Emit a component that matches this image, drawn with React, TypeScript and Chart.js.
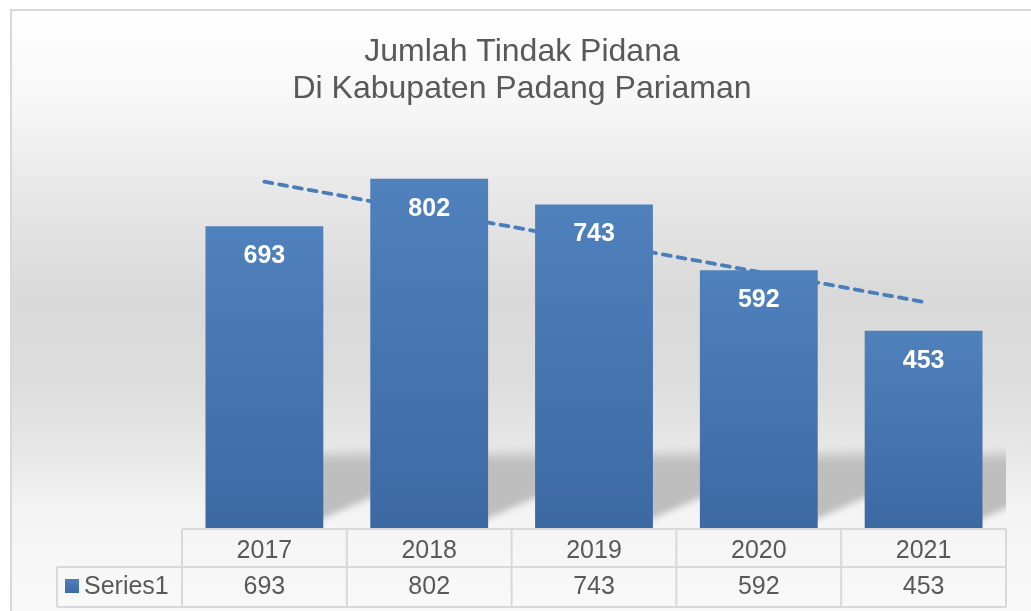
import React, { useEffect, useRef } from 'react';
import { Chart, registerables } from 'chart.js';

Chart.register(...registerables);

const titleLines = ['Jumlah Tindak Pidana', 'Di Kabupaten Padang Pariaman'];
const categories = ['2017', '2018', '2019', '2020', '2021'];
const seriesName = 'Series1';
const values = [693, 802, 743, 592, 453];
const trendValues = [795, 726, 657, 588, 519];
const yMax = 900;

const FONT = '"Liberation Sans", Arial, Helvetica, sans-serif';
const TEXT = '#595959';
const GRID = '#d9d9d9';
const W = 1031;
const H = 611;

function barGradient(ctx: CanvasRenderingContext2D, top: number, base: number) {
  const g = ctx.createLinearGradient(0, top, 0, base);
  g.addColorStop(0, '#4f81bd');
  g.addColorStop(1, '#3c69a2');
  return g;
}

const backgroundPlugin = {
  id: 'bgPlugin',
  beforeDraw(chart: any) {
    const ctx = chart.ctx as CanvasRenderingContext2D;
    ctx.save();
    ctx.fillStyle = '#ffffff';
    ctx.fillRect(0, 0, W, H);
    const g = ctx.createLinearGradient(0, 10, 0, H);
    g.addColorStop(0, '#ffffff');
    g.addColorStop(0.15, '#f7f7f7');
    g.addColorStop(0.3, '#e8e8e8');
    g.addColorStop(0.48, '#d9d9d9');
    g.addColorStop(0.62, '#dddddd');
    g.addColorStop(0.74, '#e8e8e8');
    g.addColorStop(0.84, '#f4f4f4');
    g.addColorStop(1, '#f9f9f9');
    ctx.fillStyle = g;
    ctx.fillRect(11, 10, W + 20, H + 20);
    ctx.strokeStyle = GRID;
    ctx.lineWidth = 2;
    ctx.strokeRect(11, 10, W + 20, H + 20);
    // title
    ctx.fillStyle = TEXT;
    ctx.font = `32px ${FONT}`;
    ctx.textAlign = 'center';
    ctx.textBaseline = 'alphabetic';
    ctx.fillText(titleLines[0], 522, 61);
    ctx.fillText(titleLines[1], 522, 98);
    ctx.restore();
  },
};

const shadowPlugin = {
  id: 'shadowPlugin',
  beforeDatasetsDraw(chart: any) {
    const ctx = chart.ctx as CanvasRenderingContext2D;
    const meta = chart.getDatasetMeta(0);
    const area = chart.chartArea;
    ctx.save();
    ctx.beginPath();
    ctx.rect(area.left, area.top, area.right - area.left, area.bottom - area.top);
    ctx.clip();
    ctx.filter = 'blur(3px)';
    meta.data.forEach((bar: any, i: number) => {
      const p = bar.getProps(['x', 'width', 'base'], true);
      const x0 = p.x + p.width / 2;
      const next = meta.data[i + 1];
      const x1 = next ? next.getProps(['x', 'width'], true).x - p.width / 2 : x0 + 47;
      const base = p.base;
      const g = ctx.createLinearGradient(0, base - 82, 0, base);
      g.addColorStop(0, 'rgba(190,190,190,0)');
      g.addColorStop(0.2, 'rgba(190,190,190,1)');
      g.addColorStop(1, 'rgba(190,190,190,1)');
      ctx.fillStyle = g;
      ctx.beginPath();
      ctx.moveTo(x0 - 6, base - 76);
      ctx.lineTo(x1 + 6, base - 82);
      ctx.lineTo(x1 + 6, base - 33);
      ctx.lineTo(x0 - 6, base - 7);
      ctx.closePath();
      ctx.fill();
    });
    ctx.restore();
  },
};

const labelPlugin = {
  id: 'labelPlugin',
  afterDatasetsDraw(chart: any) {
    const ctx = chart.ctx as CanvasRenderingContext2D;
    const meta = chart.getDatasetMeta(0);
    ctx.save();
    ctx.fillStyle = '#ffffff';
    ctx.font = `bold 25px ${FONT}`;
    ctx.textAlign = 'center';
    ctx.textBaseline = 'alphabetic';
    meta.data.forEach((bar: any, i: number) => {
      const p = bar.getProps(['x', 'y'], true);
      ctx.fillText(String(values[i]), p.x, p.y + 37);
    });
    ctx.restore();
  },
};

const tablePlugin = {
  id: 'tablePlugin',
  afterDraw(chart: any) {
    const ctx = chart.ctx as CanvasRenderingContext2D;
    const xs = chart.scales.x;
    const area = chart.chartArea;
    const n = categories.length;
    const colW = (area.right - area.left) / n;
    const top = area.bottom + 1;
    const mid = top + 38;
    const bottom = mid + 40;
    const legendLeft = 57;
    ctx.save();
    ctx.strokeStyle = GRID;
    ctx.lineWidth = 2;
    ctx.beginPath();
    ctx.moveTo(area.left, top);
    ctx.lineTo(area.right, top);
    ctx.moveTo(legendLeft, mid);
    ctx.lineTo(area.right, mid);
    ctx.moveTo(legendLeft, bottom);
    ctx.lineTo(area.right, bottom);
    ctx.moveTo(legendLeft, mid);
    ctx.lineTo(legendLeft, bottom);
    for (let i = 0; i <= n; i++) {
      const x = i < n ? xs.getPixelForValue(i) - colW / 2 : xs.getPixelForValue(n - 1) + colW / 2;
      ctx.moveTo(x, top);
      ctx.lineTo(x, bottom);
    }
    ctx.stroke();

    ctx.fillStyle = TEXT;
    ctx.font = `25px ${FONT}`;
    ctx.textAlign = 'center';
    ctx.textBaseline = 'alphabetic';
    categories.forEach((c, i) => {
      const x = xs.getPixelForValue(i);
      ctx.fillText(c, x, top + 29);
      ctx.fillText(String(values[i]), x, mid + 27);
    });
    // legend key
    ctx.fillStyle = barGradient(ctx, mid + 12, mid + 26);
    ctx.fillRect(65, mid + 12, 14, 14);
    ctx.fillStyle = TEXT;
    ctx.textAlign = 'left';
    ctx.fillText(seriesName, 84, mid + 27);
    ctx.restore();
  },
};

export default function App() {
  const ref = useRef<HTMLCanvasElement | null>(null);
  useEffect(() => {
    const canvas = ref.current;
    if (!canvas) return;
    const chart = new Chart(canvas, {
      type: 'bar',
      data: {
        labels: categories,
        datasets: [
          {
            type: 'bar',
            label: seriesName,
            data: values,
            order: 0,
            barPercentage: 0.715,
            categoryPercentage: 1,
            borderWidth: 0,
            backgroundColor: (c: any) => {
              const ch = c.chart;
              const ys = ch.scales && ch.scales.y;
              if (!ys || c.dataIndex == null) return '#4a7ebb';
              const top = ys.getPixelForValue(values[c.dataIndex]);
              const base = ys.getPixelForValue(0);
              if (!isFinite(top) || !isFinite(base)) return '#4a7ebb';
              return barGradient(ch.ctx, top, base);
            },
          } as any,
          {
            type: 'line',
            label: 'trend',
            data: trendValues,
            order: 1,
            borderColor: '#4a7ebb',
            borderWidth: 3.8,
            borderDash: [8, 7],
            borderCapStyle: 'round',
            pointRadius: 0,
            fill: false,
            tension: 0,
          } as any,
        ],
      },
      options: {
        responsive: false,
        animation: false,
        devicePixelRatio: 1,
        layout: { padding: { left: 182, right: 25, top: 136, bottom: 83 } },
        plugins: {
          legend: { display: false },
          tooltip: { enabled: false },
          title: { display: false },
        },
        scales: {
          x: { display: false, offset: true },
          y: { display: false, min: 0, max: yMax },
        },
      },
      plugins: [backgroundPlugin, shadowPlugin, labelPlugin, tablePlugin],
    });
    return () => chart.destroy();
  }, []);
  return (
    <div style={{ position: 'absolute', left: 0, top: 0, width: W, height: H }}>
      <canvas ref={ref} width={W} height={H} style={{ display: 'block', width: W, height: H }} />
    </div>
  );
}
